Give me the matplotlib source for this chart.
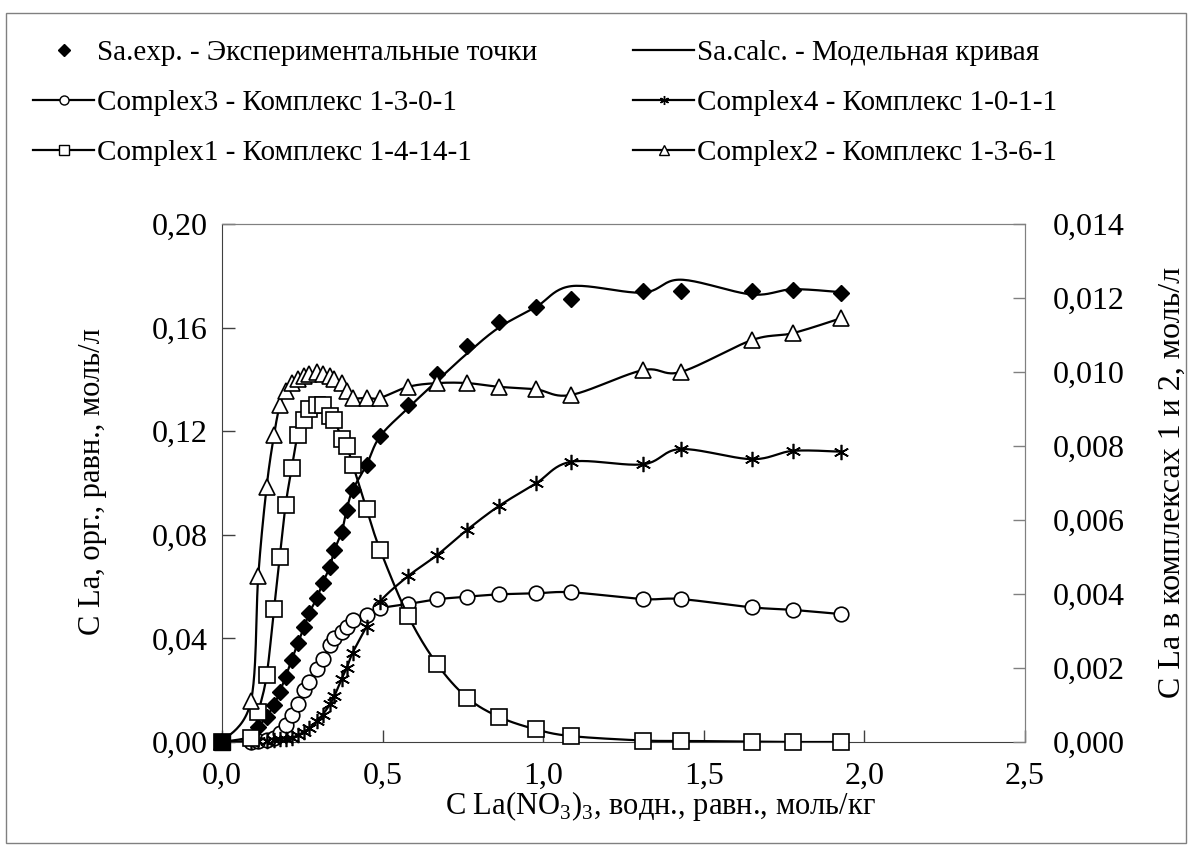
import matplotlib
matplotlib.use("Agg")
import matplotlib.pyplot as plt
from matplotlib.ticker import FuncFormatter, MultipleLocator
import numpy as np

plt.rcParams['font.family'] = ['Liberation Serif', 'DejaVu Serif']
plt.rcParams['mathtext.fontset'] = 'custom'
plt.rcParams['mathtext.rm'] = 'Liberation Serif'

# experimental points (Sa.exp)
x_exp = [0.0, 0.113, 0.139, 0.162, 0.180, 0.198, 0.217, 0.236, 0.256, 0.271,
         0.295, 0.313, 0.336, 0.350, 0.373, 0.388, 0.407, 0.450, 0.492, 0.580,
         0.670, 0.763, 0.862, 0.978, 1.087, 1.310, 1.428, 1.649, 1.777, 1.926]
sa_exp = [0.0, 0.0059, 0.0098, 0.0143, 0.0194, 0.0252, 0.0317, 0.0381, 0.0445, 0.0497,
          0.0555, 0.0613, 0.0677, 0.0741, 0.0812, 0.0896, 0.0973, 0.1070, 0.1180, 0.1300,
          0.1420, 0.1530, 0.1620, 0.1680, 0.1710, 0.1740, 0.1740, 0.1740, 0.1745, 0.1735]

# model points (calc curve and complexes)
x_calc = [0.0, 0.090, 0.113, 0.139, 0.162, 0.180, 0.198, 0.217, 0.236, 0.256, 0.271,
          0.295, 0.313, 0.336, 0.350, 0.373, 0.388, 0.407, 0.450, 0.492, 0.580,
          0.670, 0.763, 0.862, 0.978, 1.087, 1.310, 1.428, 1.649, 1.777, 1.926]
sa_calc = [0.0, 0.0020, 0.0058, 0.0098, 0.0143, 0.0194, 0.0252, 0.0317, 0.0381, 0.0445, 0.0497,
           0.0555, 0.0613, 0.0677, 0.0741, 0.0812, 0.0896, 0.0973, 0.1070, 0.1180, 0.1290,
           0.1395, 0.1500, 0.1600, 0.1680, 0.1760, 0.1735, 0.1785, 0.1728, 0.1748, 0.1737]
complex3 = [0.0, 0.0, 0.0002, 0.0006, 0.0014, 0.0035, 0.0065, 0.0105, 0.0145, 0.0200, 0.0232,
            0.0280, 0.0322, 0.0375, 0.0400, 0.0426, 0.0445, 0.0470, 0.0492, 0.0516, 0.0533,
            0.0551, 0.0561, 0.0570, 0.0574, 0.0578, 0.0552, 0.0552, 0.0520, 0.0510, 0.0494]
complex4 = [0.0, 0.0, 0.0002, 0.0004, 0.0007, 0.0010, 0.0013, 0.0017, 0.0026, 0.0040, 0.0053,
            0.0080, 0.0105, 0.0145, 0.0178, 0.0245, 0.0285, 0.0345, 0.0445, 0.0542, 0.0641,
            0.0722, 0.0819, 0.0911, 0.0999, 0.1082, 0.1072, 0.1131, 0.1092, 0.1124, 0.1121]
# right axis
complex1 = [0.0, 0.0001, 0.0008, 0.0018, 0.0036, 0.0050, 0.0064, 0.0074, 0.0083, 0.0087, 0.0090,
            0.0091, 0.0091, 0.0088, 0.0087, 0.0082, 0.0080, 0.0075, 0.0063, 0.0052, 0.0034,
            0.0021, 0.0012, 0.00068, 0.00034, 0.00016, 0.00004, 0.00003, 0.00001, 0.0, 0.0]
complex2 = [0.0, 0.0011, 0.0045, 0.0069, 0.0083, 0.0091, 0.0095, 0.0097, 0.0098, 0.0099, 0.00995,
            0.0100, 0.00995, 0.0099, 0.0098, 0.0097, 0.0095, 0.0093, 0.0093, 0.0093, 0.0096,
            0.0097, 0.0097, 0.0096, 0.00953, 0.00938, 0.01005, 0.0100, 0.01086, 0.01105, 0.01145]


def smooth(x, y, n=24):
    # Bezier smoothing through every point, like spreadsheet "smoothed line"
    p = np.column_stack([x, y]).astype(float)
    out = [p[0]]
    t = np.linspace(0, 1, n)[1:, None]
    for i in range(len(p) - 1):
        p0 = p[i - 1] if i > 0 else p[i]
        p1, p2 = p[i], p[i + 1]
        p3 = p[i + 2] if i + 2 < len(p) else p[i + 1]
        c1 = p1 + (p2 - p0) / 6
        c2 = p2 - (p3 - p1) / 6
        seg = ((1 - t) ** 3) * p1 + 3 * ((1 - t) ** 2) * t * c1 + 3 * (1 - t) * t ** 2 * c2 + t ** 3 * p2
        out.extend(seg)
    out = np.array(out)
    return out[:, 0], out[:, 1]


def comma(fmt):
    return FuncFormatter(lambda v, pos: fmt.format(v).replace('.', ','))


W, H = 1192, 848
fig = plt.figure(figsize=(W / 100, H / 100), dpi=100)
ax = fig.add_axes([222 / W, 1 - 742 / H, 803 / W, 518 / H])
ax2 = ax.twinx()

lw = 1.6
mew = 1.2
asterisk = (6, 2, 0)

def series(a, x, y, marker, ms, label):
    sx, sy = smooth(x, y)
    a.plot(sx, sy, color='black', lw=lw, zorder=2)
    a.plot(x, y, ls='none', marker=marker, ms=ms, mfc='white', mec='black', mew=mew,
           zorder=3, clip_on=False)
    h, = a.plot([], [], color='black', lw=lw, marker=marker, ms=6.5, mfc='white',
                mec='black', mew=1.0, label=label)
    return h

h3 = series(ax, x_calc, complex3, 'o', 10.5, 'Complex3 - Комплекс 1-3-0-1')
h4 = series(ax, x_calc, complex4, asterisk, 11, 'Complex4 - Комплекс 1-0-1-1')

cx, cy = smooth(x_calc, sa_calc)
hc, = ax.plot(cx, cy, color='black', lw=lw, zorder=4, label='Sa.calc. - Модельная кривая')
ax.plot(x_exp[1:], sa_exp[1:], ls='none', marker='D', ms=8.5, color='black', zorder=5,
        clip_on=False)
he, = ax.plot([], [], ls='none', marker='D', ms=6.5, color='black',
              label='Sa.exp. - Экспериментальные точки')

h1 = series(ax2, x_calc, complex1, 's', 11, 'Complex1 - Комплекс 1-4-14-1')
h2 = series(ax2, x_calc, complex2, '^', 11, 'Complex2 - Комплекс 1-3-6-1')

# starting point at the origin: solid square above every other series
ax2.plot(x_exp[:1], sa_exp[:1], ls='none', marker='s', ms=11, color='black', zorder=6,
         clip_on=False, transform=ax.transData)

ax.set_xlim(0, 2.5)
ax.set_ylim(0, 0.20)
ax2.set_ylim(0, 0.014)
ax.xaxis.set_major_locator(MultipleLocator(0.5))
ax.yaxis.set_major_locator(MultipleLocator(0.04))
ax2.yaxis.set_major_locator(MultipleLocator(0.002))
ax.xaxis.set_major_formatter(comma('{:.1f}'))
ax.yaxis.set_major_formatter(comma('{:.2f}'))
ax2.yaxis.set_major_formatter(comma('{:.3f}'))

tfs = 23
lfs = 22
gfs = 21
ax.tick_params(axis='y', direction='in', length=9, width=1, labelsize=tfs, pad=10,
               colors='#404040', labelcolor='black')
ax.tick_params(axis='x', direction='in', length=9, width=1, labelsize=tfs, pad=14,
               colors='#404040', labelcolor='black')
ax2.tick_params(axis='y', direction='in', length=9, width=1, labelsize=tfs, pad=20,
                colors='#808080', labelcolor='black')
for s in ['left', 'bottom']:
    ax.spines[s].set_color('#404040')
for s in ['top', 'right']:
    ax.spines[s].set_color('#808080')
ax2.spines['right'].set_color('#808080')
ax2.spines['top'].set_color('#808080')
ax2.spines['left'].set_visible(False)
ax2.spines['bottom'].set_visible(False)

# axis titles
fig.text(660 / W, 1 - 806 / H, 'C La(NO$_3$)$_3$, водн., равн., моль/кг', fontsize=lfs,
         ha='center', va='center')
fig.text(93 / W, 1 - 482 / H, 'C La, орг., равн., моль/л', fontsize=lfs,
         ha='center', va='center', rotation=90)
fig.text(1172 / W, 1 - 482 / H, 'C La в комплексах 1 и 2, моль/л', fontsize=23,
         ha='center', va='center', rotation=90)

# two legend columns
leg_kw = dict(loc='upper left', frameon=False, fontsize=gfs, borderpad=0, borderaxespad=0,
              handlelength=2.1, handletextpad=0.08, labelspacing=0.8)
fig.legend(handles=[he, h3, h1], bbox_to_anchor=(33 / W, 1 - 40 / H), **leg_kw)
fig.legend(handles=[hc, h4, h2], bbox_to_anchor=(633 / W, 1 - 40 / H), **leg_kw)

fig.patches.append(plt.Rectangle((6 / W, 5 / H), 1180 / W, 830 / H, transform=fig.transFigure,
                                 fill=False, edgecolor='#808080', lw=1))

fig.savefig('out.png', dpi=100)
